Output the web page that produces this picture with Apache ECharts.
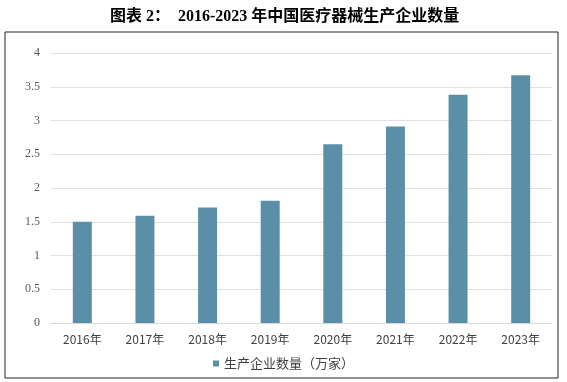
<!DOCTYPE html>
<html><head><meta charset="utf-8">
<script src="https://cdn.jsdelivr.net/npm/echarts@6/dist/echarts.min.js"></script>
<style>html,body{margin:0;padding:0;background:#fff}#c{width:567px;height:382px}</style>
</head><body><div id="c"></div>
<script>
const categories = ['2016年','2017年','2018年','2019年','2020年','2021年','2022年','2023年'];
const values = [1.50, 1.59, 1.71, 1.81, 2.65, 2.91, 3.38, 3.67];
const seriesName = '生产企业数量（万家）';
const titleText = '图表 2：  2016-2023 年中国医疗器械生产企业数量';

const chart = echarts.init(document.getElementById('c'));
chart.setOption({
  backgroundColor: '#fff',
  animation: false,
  title: {
    text: titleText, left: 105, top: 4,
    textStyle: { fontFamily: "'Liberation Serif','Noto Sans CJK SC'", fontWeight: 'bold', fontSize: 16, color: '#000' }
  },
  graphic: [{
    type: 'rect', shape: { x: 5, y: 32, width: 553, height: 346 },
    style: { fill: 'none', stroke: '#222', lineWidth: 1 }, silent: true
  }],
  grid: { left: 51, right: 15, top: 53, bottom: 59 },
  legend: {
    data: [seriesName], top: 352, left: 'center', itemWidth: 6, itemHeight: 6, itemGap: 3,
    icon: 'rect',
    textStyle: { fontFamily: "'Noto Sans CJK SC'", fontSize: 13, color: '#404040' }
  },
  xAxis: {
    type: 'category', data: categories,
    axisLine: { lineStyle: { color: '#d9d9d9' } },
    axisTick: { show: false },
    axisLabel: { fontFamily: "'Noto Sans CJK SC'", fontSize: 12, color: '#404040', margin: 10 }
  },
  yAxis: {
    type: 'value', min: 0, max: 4, interval: 0.5,
    axisLine: { show: false }, axisTick: { show: false },
    splitLine: { lineStyle: { color: '#e0e0e0' } },
    axisLabel: { fontFamily: "'Liberation Serif','Noto Sans CJK SC'", fontSize: 12, color: '#595959', margin: 11 }
  },
  series: [{
    name: seriesName, type: 'bar', data: values, barWidth: 19,
    itemStyle: { color: '#5b8fa7' }
  }]
});
</script></body></html>
